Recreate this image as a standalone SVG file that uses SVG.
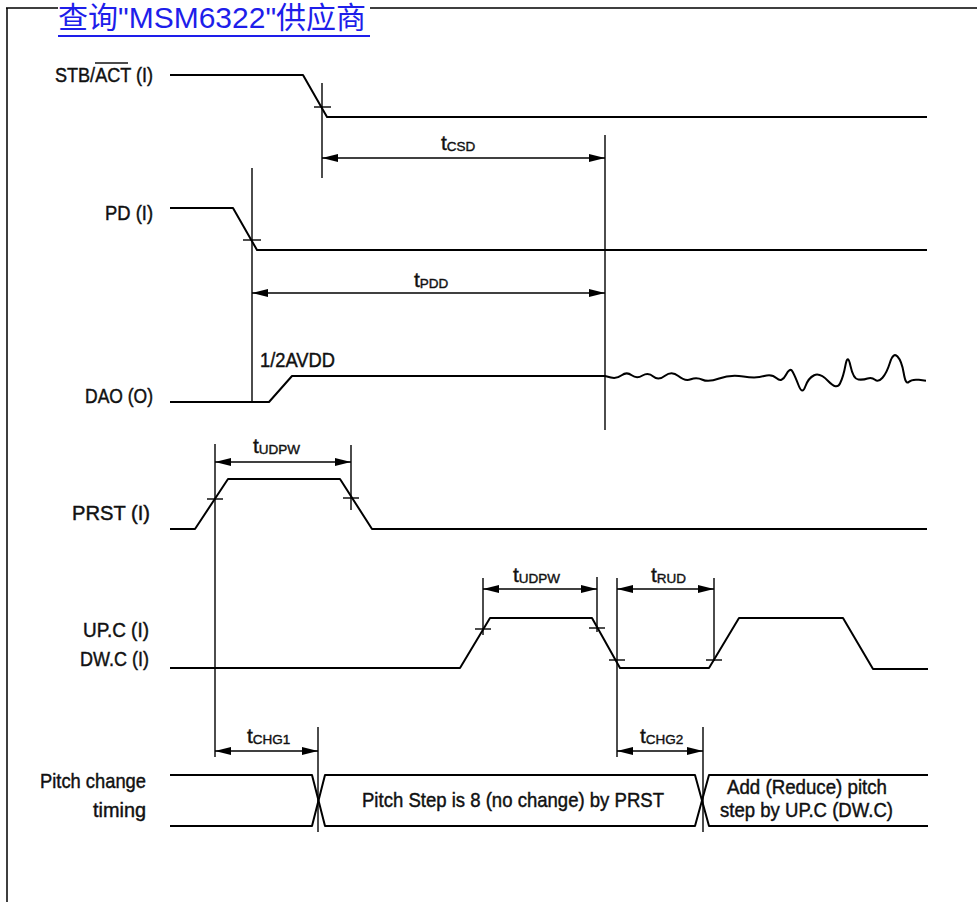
<svg xmlns="http://www.w3.org/2000/svg" width="977" height="902" viewBox="0 0 977 902">
<style>
  .sig { fill: none; stroke: #000; stroke-width: 2; stroke-linejoin: round; }
  .ref { fill: none; stroke: #000; stroke-width: 1.4; }
  .tick { fill: none; stroke: #000; stroke-width: 1.4; }
  .dim { fill: none; stroke: #000; stroke-width: 1.4; marker-start: url(#ah); marker-end: url(#ah); }
  .lbl { font-family: "Liberation Sans", Arial, sans-serif; font-size: 21px; fill: #111; stroke: #111; stroke-width: 0.45px; }
  .tl { font-family: "Liberation Sans", Arial, sans-serif; font-size: 21px; fill: #111; stroke: #111; stroke-width: 0.4px; }
  .sub { font-size: 13.5px; }
  .frame { fill: none; stroke: #000; stroke-width: 1.5; }
  .link { font-family: "Liberation Sans", "Noto Sans CJK SC", sans-serif; font-size: 30px; fill: #1e1eea; }
</style>
<defs>
  <marker id="ah" markerUnits="userSpaceOnUse" markerWidth="16" markerHeight="8" refX="16" refY="4" orient="auto-start-reverse" viewBox="0 0 16 8">
    <path d="M0,0 L16,4 L0,8 Z" fill="#000"/>
  </marker>
</defs>
<rect x="0" y="0" width="977" height="902" fill="#fff"/>

<g id="frame">
  <path class="frame" d="M6,8 H58 M370,8 H977 M7,8 V902"/>
</g>

<g id="link">
  <text class="link" x="58" y="28">查询"MSM6322"供应商</text>
  <line x1="58" y1="36" x2="370" y2="36" stroke="#1e1eea" stroke-width="2"/>
</g>

<g id="stb">
  <text class="lbl" x="55" y="82" textLength="98" lengthAdjust="spacingAndGlyphs">STB/ACT (I)</text>
  <line x1="95" y1="63" x2="128" y2="63" stroke="#111" stroke-width="1.6"/>
  <path class="sig" d="M170,75 H303 L327,117 H927"/>
  <line class="tick" x1="314" y1="107" x2="331" y2="107"/>
</g>

<g id="pd">
  <text class="lbl" x="105" y="220" textLength="48" lengthAdjust="spacingAndGlyphs">PD (I)</text>
  <path class="sig" d="M170,208 H233 L257,250 H927"/>
  <line class="tick" x1="243" y1="240" x2="261" y2="240"/>
</g>

<g id="dao">
  <text class="lbl" x="85" y="403" textLength="68" lengthAdjust="spacingAndGlyphs">DAO (O)</text>
  <text class="lbl" x="260" y="367" textLength="75" lengthAdjust="spacingAndGlyphs">1/2AVDD</text>
  <path class="sig" d="M170,402 H269 L292,376 H605 L610.85,377.5 Q616.7,379 621.7,375.25 Q626.7,371.5 631.7,375.25 Q636.7,379 642.5,375.5 Q648.3,372 653.3,376.5 Q658.3,381 665,375.75 Q671.7,370.5 678.35,376 Q685,381.5 690.85,379.25 Q696.7,377 702.5,379.75 Q708.3,382.5 719.15,378.5 Q730,374.5 743.35,376.5 Q756.7,378.5 764.2,376 Q771.7,373.5 776.7,378.25 Q781.7,383 785.85,375 Q790,367 792.5,371.5 Q795,376 798.65,385.5 Q802.3,395 805.3,386.5 Q808.3,378 814.15,375.25 Q820,372.5 828.35,381.25 Q836.7,390 840,383.5 Q843.3,377 845.5,365 Q847.7,353 850.5,366 Q853.3,379 858.3,379.5 Q863.3,380 867.5,378.5 Q871.7,377 875,379.75 Q878.3,382.5 882.5,377.75 Q886.7,373 890,362.5 Q893.3,352 897.5,356.5 Q901.7,361 903.7,373 Q905.7,385 908.7,382 Q911.7,379 918.85,379.85 L926,380.7"/>
</g>

<g id="prst">
  <text class="lbl" x="72" y="520" textLength="78" lengthAdjust="spacingAndGlyphs">PRST (I)</text>
  <path class="sig" d="M170,529 H195 L228,479 H340 L372,529 H927"/>
  <line class="tick" x1="207" y1="499" x2="223" y2="499"/>
  <line class="tick" x1="343" y1="498" x2="359" y2="498"/>
</g>

<g id="upc">
  <text class="lbl" x="83" y="637" textLength="66" lengthAdjust="spacingAndGlyphs">UP.C (I)</text>
  <text class="lbl" x="80" y="666" textLength="69" lengthAdjust="spacingAndGlyphs">DW.C (I)</text>
  <path class="sig" d="M170,668 H460 L490,618 H592 L620,668 H709 L739,618 H843 L873,669 H928"/>
  <line class="tick" x1="475" y1="629" x2="491" y2="629"/>
  <line class="tick" x1="589" y1="628" x2="605" y2="628"/>
  <line class="tick" x1="609" y1="660" x2="625" y2="660"/>
  <line class="tick" x1="706" y1="660" x2="722" y2="660"/>
</g>

<g id="pitch">
  <text class="lbl" x="40" y="788" textLength="106" lengthAdjust="spacingAndGlyphs">Pitch change</text>
  <text class="lbl" x="93" y="817" textLength="53" lengthAdjust="spacingAndGlyphs">timing</text>
  <path class="sig" d="M170,775 H312 L325,826 H695 L709,775 H928"/>
  <path class="sig" d="M170,826 H312 L325,775 H695 L709,826 H928"/>
  <text class="lbl" x="362" y="807" textLength="302" lengthAdjust="spacingAndGlyphs">Pitch Step is 8 (no change) by PRST</text>
  <text class="lbl" x="727" y="794" textLength="160" lengthAdjust="spacingAndGlyphs">Add (Reduce) pitch</text>
  <text class="lbl" x="720" y="817" textLength="173" lengthAdjust="spacingAndGlyphs">step by UP.C (DW.C)</text>
</g>

<g id="connectors">
  <line class="ref" x1="322" y1="83" x2="322" y2="178"/>
  <line class="ref" x1="605" y1="135" x2="605" y2="430"/>
  <line class="ref" x1="252" y1="168" x2="252" y2="402"/>
  <line class="ref" x1="215" y1="444" x2="215" y2="757"/>
  <line class="ref" x1="351" y1="445" x2="351" y2="510"/>
  <line class="ref" x1="483" y1="578" x2="483" y2="635"/>
  <line class="ref" x1="597" y1="577" x2="597" y2="632"/>
  <line class="ref" x1="617" y1="578" x2="617" y2="757"/>
  <line class="ref" x1="714" y1="578" x2="714" y2="661"/>
  <line class="ref" x1="318" y1="727" x2="318" y2="832"/>
  <line class="ref" x1="703" y1="727" x2="703" y2="832"/>

  <line class="dim" x1="322" y1="158" x2="605" y2="158"/>
  <line class="dim" x1="252" y1="293" x2="605" y2="293"/>
  <line class="dim" x1="215" y1="462" x2="351" y2="462"/>
  <line class="dim" x1="483" y1="589" x2="597" y2="589"/>
  <line class="dim" x1="617" y1="589" x2="714" y2="589"/>
  <line class="dim" x1="215" y1="751" x2="318" y2="751"/>
  <line class="dim" x1="617" y1="751" x2="703" y2="751"/>

  <text class="tl" x="441" y="150">t<tspan class="sub" dy="1">CSD</tspan></text>
  <text class="tl" x="414" y="287">t<tspan class="sub" dy="1">PDD</tspan></text>
  <text class="tl" x="253" y="453">t<tspan class="sub" dy="1">UDPW</tspan></text>
  <text class="tl" x="513" y="582">t<tspan class="sub" dy="1">UDPW</tspan></text>
  <text class="tl" x="651" y="582">t<tspan class="sub" dy="1">RUD</tspan></text>
  <text class="tl" x="247" y="743">t<tspan class="sub" dy="1">CHG1</tspan></text>
  <text class="tl" x="640" y="743">t<tspan class="sub" dy="1">CHG2</tspan></text>
</g>
</svg>
